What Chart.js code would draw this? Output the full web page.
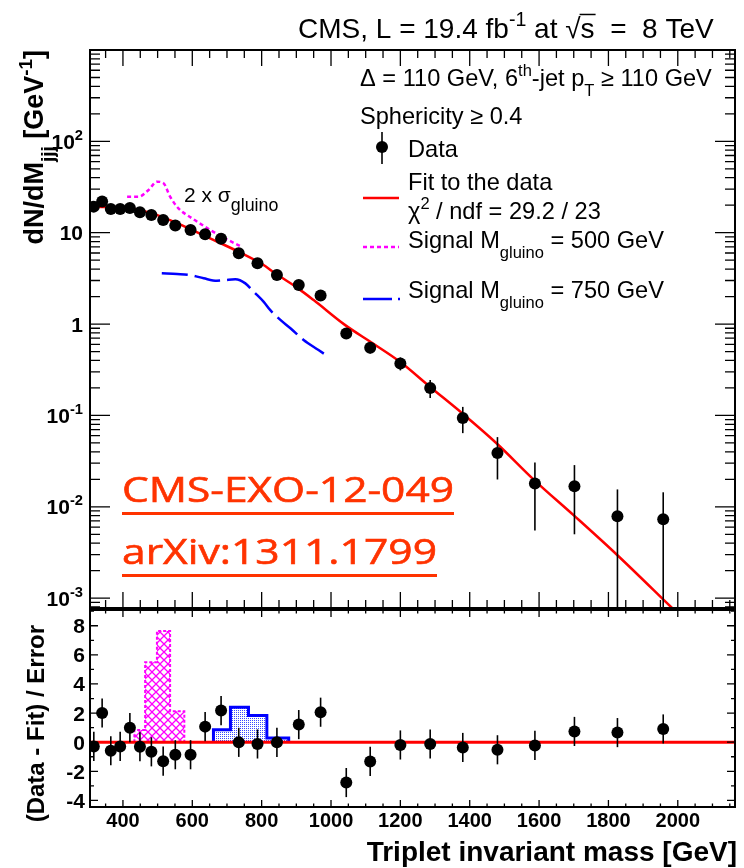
<!DOCTYPE html>
<html>
<head>
<title>Triplet invariant mass</title>
<script src="https://cdn.jsdelivr.net/npm/chart.js@4.4.0/dist/chart.umd.min.js"></script>
<style>
  body { margin: 0; background: #fff; }
  #wrap { position: relative; width: 744px; height: 868px; }
  canvas { position: absolute; left: 0; top: 0; }
</style>
</head>
<body>
<div id="wrap">
  <canvas id="topPad" width="744" height="868"></canvas>
  <canvas id="ratioPad" width="744" height="868"></canvas>
</div>
<script>
// bin centres [GeV] and measured spectrum
var massBins = [316, 340, 365, 392, 420, 449, 482, 516, 551, 595, 637, 683, 734, 788, 844, 907, 970,
                1044, 1113, 1200, 1286, 1380, 1480, 1588, 1702, 1826, 1958];
var dataValues = [19.3, 21.9, 18.2, 18.2, 18.6, 16.7, 15.6, 13.8, 12.0, 10.7, 9.6, 8.6, 5.95, 4.62, 3.44, 2.67, 2.06,
                  0.79, 0.55, 0.371, 0.200, 0.094, 0.0389, 0.0180, 0.0168, 0.00789, 0.00731];
var dataErrors = [0.9, 1.2, 0.9, 0.9, 0.85, 0.8, 0.75, 0.7, 0.6, 0.55, 0.5, 0.45, 0.4, 0.33, 0.28, 0.25, 0.2,
                  0.09, 0.075, 0.06, 0.045, 0.03, 0.019, 0.0125, 0.0118, 0.0076, 0.0071];
// (data - fit) / error
var pulls = [-0.29, 2.01, -0.59, -0.29, 1.0, -0.31, -0.66, -1.30, -0.86, -0.86, 1.07, 2.17, -0.01, -0.12, -0.01, 1.21, 2.06,
             -2.77, -1.32, -0.19, -0.12, -0.36, -0.52, -0.22, 0.74, 0.66, 0.91];

// fit function
var fitMass = [310, 350, 416, 450, 484, 551, 609, 676, 743, 801, 842, 905, 950, 1040, 1119, 1199, 1285, 1379, 1478, 1586, 1701, 1826, 1985];
var fitValues = [19.3, 19.1, 18.8, 17.6, 16.3, 13.0, 10.3, 7.85, 5.95, 4.54, 3.53, 2.46, 1.83, 0.98, 0.62, 0.386, 0.206, 0.105, 0.0493, 0.0196, 0.0080, 0.00295, 0.00077];

// signal shapes (2 x sigma)
var sig500Mass = [412, 445, 474, 498, 517, 536, 560, 599, 637, 686, 743];
var sig500Values = [24.8, 24.8, 29.4, 36.2, 34.8, 24.8, 18.5, 14.4, 11.6, 9.0, 7.0];
var sig750Mass = [512, 556, 594, 633, 671, 695, 724, 753, 777, 806, 825, 854, 883, 921, 964, 996];
var sig750Values = [3.59, 3.53, 3.44, 3.17, 2.98, 3.03, 3.09, 2.79, 2.26, 1.75, 1.42, 1.11, 0.90, 0.67, 0.52, 0.43];

// signal in the pull panel, histogram bin edges and heights
var sig500Edges = [433, 464, 498, 536, 577];
var sig500Pull = [0.84, 5.5, 7.64, 2.12];
var sig750Edges = [661, 710, 762, 815, 878];
var sig750Pull = [0.86, 2.4, 1.83, 0.29];

var xTickLabels = [400, 600, 800, 1000, 1200, 1400, 1600, 1800, 2000];
var yTopExponents = [-3, -2, -1, 0, 1, 2];
var yRatioLabels = [-4, -2, 0, 2, 4, 6, 8];

var FONT = '"Liberation Sans", Arial, Helvetica, sans-serif';
function font(weight, size) { return weight + ' ' + size + 'px ' + FONT; }

// text with superscripts / subscripts
function segSize(s, size) { return (s.sup || s.sub) ? size * (s.k || 0.7) : size; }
function richWidth(ctx, segs, size, weight) {
  var w = 0;
  segs.forEach(function (s) {
    ctx.font = font(weight, segSize(s, size));
    w += ctx.measureText(s.t).width;
  });
  return w;
}
function drawRich(ctx, segs, x, y, size, weight, align) {
  if (align === 'right') x -= richWidth(ctx, segs, size, weight);
  ctx.textAlign = 'left';
  ctx.textBaseline = 'alphabetic';
  segs.forEach(function (s) {
    var dy = s.sup ? -size * 0.42 : (s.sub ? size * 0.42 : 0);
    ctx.font = font(weight, segSize(s, size));
    ctx.fillText(s.t, x, y + dy);
    var w = ctx.measureText(s.t).width;
    if (s.over) {
      ctx.save();
      ctx.lineWidth = 1.5;
      ctx.beginPath();
      ctx.moveTo(x - 1, y - size * 0.84);
      ctx.lineTo(x + w + 1, y - size * 0.84);
      ctx.stroke();
      ctx.restore();
    }
    x += w;
  });
}

function drawXTicks(ctx, xs, a, major, minor) {
  for (var m = 300; m <= 2200; m += 50) {
    if (m < xs.min || m > xs.max) continue;
    var x = xs.getPixelForValue(m);
    var len = (m % 200 === 0) ? major : minor;
    ctx.beginPath();
    ctx.moveTo(x, a.bottom); ctx.lineTo(x, a.bottom - len);
    ctx.moveTo(x, a.top); ctx.lineTo(x, a.top + len);
    ctx.stroke();
  }
}
function drawYTick(ctx, y, a, len) {
  ctx.beginPath();
  ctx.moveTo(a.left, y); ctx.lineTo(a.left + len, y);
  ctx.moveTo(a.right, y); ctx.lineTo(a.right - len, y);
  ctx.stroke();
}
function drawFrame(ctx, a) {
  ctx.lineWidth = 2;
  ctx.strokeRect(a.left, a.top, a.right - a.left, a.bottom - a.top);
}
function drawErrorBars(chart, values, errors, floorAtBottom) {
  var ctx = chart.ctx, xs = chart.scales.x, ys = chart.scales.y, a = chart.chartArea;
  ctx.save();
  ctx.beginPath();
  ctx.rect(a.left, a.top, a.right - a.left, a.bottom - a.top);
  ctx.clip();
  ctx.strokeStyle = '#000';
  ctx.lineWidth = 1.6;
  massBins.forEach(function (m, i) {
    var x = xs.getPixelForValue(m);
    var lo = values[i] - errors[i];
    var yLo = (floorAtBottom && lo <= 0) ? a.bottom : ys.getPixelForValue(lo);
    var yHi = ys.getPixelForValue(values[i] + errors[i]);
    ctx.beginPath();
    ctx.moveTo(x, yHi); ctx.lineTo(x, yLo);
    ctx.stroke();
  });
  ctx.restore();
}

var topDecor = {
  id: 'topDecor',
  afterDatasetsDraw: function (chart) {
    drawErrorBars(chart, dataValues, dataErrors, true);
  },
  afterDraw: function (chart) {
    var ctx = chart.ctx, xs = chart.scales.x, ys = chart.scales.y, a = chart.chartArea;
    ctx.save();
    ctx.strokeStyle = '#000';
    ctx.fillStyle = '#000';
    drawFrame(ctx, a);
    ctx.lineWidth = 1.3;
    drawXTicks(ctx, xs, a, 16, 8);
    for (var d = -4; d <= 3; d++) {
      for (var k = 1; k <= 9; k++) {
        var v = k * Math.pow(10, d);
        if (v < ys.min || v > ys.max) continue;
        drawYTick(ctx, ys.getPixelForValue(v), a, k === 1 ? 20 : 10);
      }
    }
    // y tick labels
    yTopExponents.forEach(function (e) {
      var y = ys.getPixelForValue(Math.pow(10, e)) + 7.5;
      var segs = e === 0 ? [{ t: '1' }] : e === 1 ? [{ t: '10' }] : [{ t: '10' }, { t: String(e), sup: true }];
      drawRich(ctx, segs, 83, y, 21, 'bold', 'right');
    });
    // y title
    ctx.save();
    ctx.translate(43, 50);
    ctx.rotate(-Math.PI / 2);
    drawRich(ctx, [{ t: 'dN/dM' }, { t: 'jjj', sub: true }, { t: ' [GeV' }, { t: '-1', sup: true }, { t: ']' }], 0, 0, 27, 'bold', 'right');
    ctx.restore();

    // header
    drawRich(ctx, [{ t: 'CMS, L = 19.4 fb' }, { t: '-1', sup: true }, { t: ' at ' }, { t: '\u221A' }, { t: 's', over: true }, { t: '  =  8 TeV' }],
      298, 38, 28, 'normal');
    drawRich(ctx, [{ t: '\u0394 = 110 GeV, 6' }, { t: 'th', sup: true }, { t: '-jet p' }, { t: 'T', sub: true }, { t: ' \u2265 110 GeV' }],
      360, 86, 23.6, 'normal');
    drawRich(ctx, [{ t: 'Sphericity \u2265 0.4' }], 360, 124, 23.6, 'normal');

    // legend
    ctx.lineWidth = 1.6;
    ctx.beginPath(); ctx.moveTo(382, 132); ctx.lineTo(382, 164); ctx.stroke();
    ctx.beginPath(); ctx.arc(382, 147, 6, 0, 2 * Math.PI); ctx.fill();
    drawRich(ctx, [{ t: 'Data' }], 408, 157, 23.6, 'normal');

    ctx.lineWidth = 2.5;
    ctx.strokeStyle = '#ff0000';
    ctx.beginPath(); ctx.moveTo(363, 198); ctx.lineTo(399, 198); ctx.stroke();
    drawRich(ctx, [{ t: 'Fit to the data' }], 408, 190, 23.6, 'normal');
    drawRich(ctx, [{ t: '\u03C7' }, { t: '2', sup: true }, { t: ' / ndf = 29.2 / 23' }], 408, 219, 23.6, 'normal');

    ctx.strokeStyle = '#ff00ff';
    ctx.setLineDash([4, 3]);
    ctx.beginPath(); ctx.moveTo(363, 247); ctx.lineTo(399, 247); ctx.stroke();
    ctx.strokeStyle = '#0000ff';
    ctx.setLineDash([29, 6]);
    ctx.beginPath(); ctx.moveTo(363, 299); ctx.lineTo(400, 299); ctx.stroke();
    ctx.setLineDash([]);
    drawRich(ctx, [{ t: 'Signal M' }, { t: 'gluino', sub: true }, { t: ' = 500 GeV' }], 408, 248, 23.6, 'normal');
    drawRich(ctx, [{ t: 'Signal M' }, { t: 'gluino', sub: true }, { t: ' = 750 GeV' }], 408, 298, 23.6, 'normal');

    // signal label
    drawRich(ctx, [{ t: '2 x \u03C3' }, { t: 'gluino', sub: true, k: 0.85 }], 184, 202, 21, 'normal');

    // analysis reference stamp
    ctx.fillStyle = '#ff3300';
    ctx.strokeStyle = '#ff3300';
    [['CMS-EXO-12-049', 502, 332], ['arXiv:1311.1799', 564, 315]].forEach(function (r) {
      ctx.save();
      ctx.font = '34px "Open Sans", Lato, sans-serif';
      var w = ctx.measureText(r[0]).width;
      ctx.translate(122, r[1]);
      ctx.scale(r[2] / w, 1);
      ctx.textAlign = 'left';
      ctx.lineWidth = 0.6;
      ctx.fillText(r[0], 0, 0);
      ctx.strokeText(r[0], 0, 0);
      ctx.restore();
      ctx.fillRect(122, r[1] + 10, r[2], 3);
    });
    ctx.restore();
  }
};

var ratioDecor = {
  id: 'ratioDecor',
  afterDatasetsDraw: function (chart) {
    drawErrorBars(chart, pulls, pulls.map(function () { return 1; }), false);
  },
  afterDraw: function (chart) {
    var ctx = chart.ctx, xs = chart.scales.x, ys = chart.scales.y, a = chart.chartArea;
    ctx.save();
    ctx.strokeStyle = '#000';
    ctx.fillStyle = '#000';
    drawFrame(ctx, a);
    ctx.lineWidth = 1.3;
    drawXTicks(ctx, xs, a, 7, 3.5);
    for (var v = -4; v <= 9; v++) {
      drawYTick(ctx, ys.getPixelForValue(v), a, v % 2 === 0 ? 8 : 4);
    }
    yRatioLabels.forEach(function (v) {
      drawRich(ctx, [{ t: String(v) }], 85, ys.getPixelForValue(v) + 7.5, 21, 'bold', 'right');
    });
    xTickLabels.forEach(function (m) {
      ctx.font = font('bold', 20);
      ctx.textAlign = 'center';
      ctx.fillText(String(m), xs.getPixelForValue(m), 827);
    });
    drawRich(ctx, [{ t: 'Triplet invariant mass [GeV]' }], 737, 861, 28, 'bold', 'right');
    ctx.save();
    ctx.translate(44, 625);
    ctx.rotate(-Math.PI / 2);
    drawRich(ctx, [{ t: '(Data - Fit) / Error' }], 0, 0, 24, 'bold', 'right');
    ctx.restore();
    ctx.restore();
  }
};

function makePattern(kind) {
  var c = document.createElement('canvas');
  var g = c.getContext('2d');
  if (kind === 'cross') {
    c.width = 8; c.height = 8;
    g.strokeStyle = '#ff00ff';
    g.lineWidth = 1.3;
    g.beginPath();
    g.moveTo(0, 0); g.lineTo(8, 8);
    g.moveTo(8, 0); g.lineTo(0, 8);
    g.stroke();
  } else {
    c.width = 2; c.height = 2;
    g.fillStyle = '#3a4cff';
    g.fillRect(0, 0, 1, 1);
  }
  return g.createPattern(c, 'repeat');
}

// histogram outline: each bin height starts at its low edge
function histPoints(edges, heights) {
  var pts = [{ x: edges[0], y: 0 }];
  heights.forEach(function (h, i) { pts.push({ x: edges[i], y: h }); });
  pts.push({ x: edges[edges.length - 1], y: heights[heights.length - 1] });
  pts.push({ x: edges[edges.length - 1], y: 0 });
  return pts;
}
function xy(xsArr, ysArr) {
  return xsArr.map(function (x, i) { return { x: x, y: ysArr[i] }; });
}

var common = {
  responsive: false,
  animation: false,
  devicePixelRatio: 1,
  plugins: { legend: { display: false }, tooltip: { enabled: false } }
};

new Chart(document.getElementById('topPad'), {
  type: 'scatter',
  data: {
    datasets: [
      { data: xy(massBins, dataValues), pointRadius: 6, pointBackgroundColor: '#000', pointBorderWidth: 0 },
      { data: xy(fitMass, fitValues), showLine: true, borderColor: '#ff0000', borderWidth: 2.5, pointRadius: 0, cubicInterpolationMode: 'monotone' },
      { data: xy(sig500Mass, sig500Values), showLine: true, borderColor: '#ff00ff', borderWidth: 2.5, borderDash: [4, 3], pointRadius: 0, cubicInterpolationMode: 'monotone' },
      { data: xy(sig750Mass, sig750Values), showLine: true, borderColor: '#0000ff', borderWidth: 2.5, borderDash: [26, 7], pointRadius: 0, cubicInterpolationMode: 'monotone' }
    ]
  },
  options: Object.assign({}, common, {
    layout: { padding: { left: 90, top: 50, right: 9, bottom: 260 } },
    scales: {
      x: { type: 'linear', min: 305, max: 2165, display: false },
      y: { type: 'logarithmic', min: 0.00078, max: 1000, display: false }
    }
  }),
  plugins: [topDecor]
});

new Chart(document.getElementById('ratioPad'), {
  type: 'scatter',
  data: {
    datasets: [
      { data: xy(massBins, pulls), pointRadius: 6, pointBackgroundColor: '#000', pointBorderWidth: 0 },
      { data: [{ x: 305, y: 0 }, { x: 2165, y: 0 }], showLine: true, borderColor: '#ff0000', borderWidth: 3, pointRadius: 0 },
      { data: histPoints(sig750Edges, sig750Pull), showLine: true, stepped: 'before', borderColor: '#0000ff', borderWidth: 3,
        pointRadius: 0, fill: 'origin', backgroundColor: makePattern('dots') },
      { data: histPoints(sig500Edges, sig500Pull), showLine: true, stepped: 'before', borderColor: '#ff00ff', borderWidth: 2,
        borderDash: [3, 2], pointRadius: 0, fill: 'origin', backgroundColor: makePattern('cross') }
    ]
  },
  options: Object.assign({}, common, {
    layout: { padding: { left: 90, top: 610, right: 9, bottom: 61 } },
    scales: {
      x: { type: 'linear', min: 305, max: 2165, display: false },
      y: { type: 'linear', min: -4.45, max: 9.08, display: false }
    }
  }),
  plugins: [ratioDecor]
});
</script>
</body>
</html>
